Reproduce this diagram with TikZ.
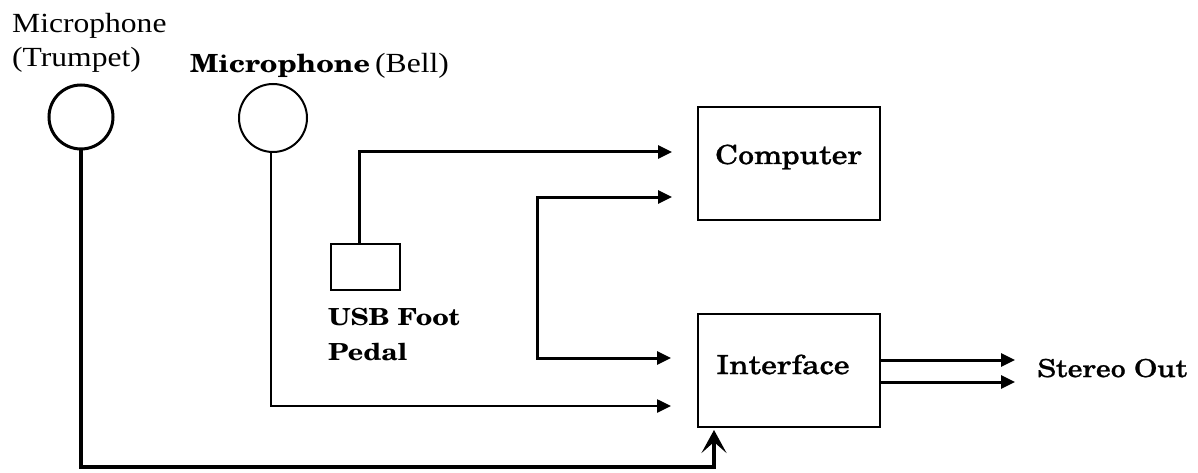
\documentclass[tikz,border=0pt]{standalone}
\usepackage{fontspec}
\setmainfont{Liberation Serif}[FakeStretch=1.14]
\newfontfamily\scholaB{TeX Gyre Schola}[FakeStretch=1.15]
\newfontfamily\scholaR{TeX Gyre Schola}[FakeStretch=1.21,FakeBold=1]
\usetikzlibrary{arrows.meta,calc}
\begin{document}
\begin{tikzpicture}[x=1pt,y=-1pt,
  boxnode/.style={draw, line width=2pt, inner sep=0pt},
  mic/.style={draw, circle, inner sep=0pt},
  wire/.style={line width=3pt},
  arr/.style={wire, -{Triangle[length=14pt,width=13pt]}},
  arrboth/.style={wire, {Triangle[length=14pt,width=13pt]}-{Triangle[length=14pt,width=13pt]}},
  lbl/.style={inner sep=0pt, anchor=base west},
  tms/.style={lbl, font=\fontsize{27.7}{27.7}\selectfont},
  schb/.style={lbl, font=\scholaB\bfseries\fontsize{#1}{#1}\selectfont},
  schr/.style={lbl, font=\scholaR\fontsize{#1}{#1}\selectfont}]
\useasboundingbox (0,0) rectangle (1198,473);
% devices
\node[mic, line width=3pt, minimum size=64pt] (mt) at (81,117) {};
\node[mic, line width=2pt, minimum size=68pt] (mb) at (273,118) {};
\node[boxnode, minimum width=69pt, minimum height=46pt] (pedal) at (365.5,267) {};
\node[boxnode, minimum width=182pt, minimum height=113pt] (comp) at (789,163.5) {};
\node[boxnode, minimum width=182pt, minimum height=113pt] (intf) at (789,370.5) {};
% labels
\node[tms] (tl1) at (12,33) {Microphone};
\node[tms] (tl2) at (12,67) {(Trumpet)};
\node[schb=25] (bl1) at (190,73) {Microphone};
\node[tms] (bl2) at (375,73) {(Bell)};
\node[schb=23.5] (ul1) at (328,325) {USB Foot};
\node[schb=23.5] (ul2) at (328,360) {Pedal};
\node[schr=26.3] (ct) at (715,164) {Computer};
\node[schr=26.3] (it) at (716,374) {Interface};
\node[schr=24.7] (so) at (1037,377) {Stereo Out};
% junction points
\coordinate (j1) at (537,197);
\coordinate (j2) at (537,358);
% connectors
\draw[line width=4.5pt, -{Stealth[length=23pt,width=25pt,inset=11pt]}, shorten >=2pt]
  (mt.south) -- (mt.south |- 0,467) -| ([xshift=17pt]intf.south west);
\draw[line width=2.5pt, -{Triangle[length=14pt,width=13pt]}, shorten >=26pt]
  ([xshift=-2pt]mb.south) |- ([yshift=-35.5pt]intf.west);
\draw[arr, shorten >=25pt] ([xshift=-6.5pt]pedal.north) |- ([yshift=11.5pt]comp.west);
\draw[arrboth] ([xshift=-25pt,yshift=-33.5pt]comp.west) -- (j1) -- (j2) -- ([xshift=-26pt,yshift=12.5pt]intf.west);
\draw[arr, shorten >=22pt] ([yshift=10.5pt]intf.east) -- ([yshift=10.5pt]intf.east -| so.west);
\draw[arr, shorten >=22pt] ([yshift=-11.5pt]intf.east) -- ([yshift=-11.5pt]intf.east -| so.west);
\end{tikzpicture}
\end{document}
